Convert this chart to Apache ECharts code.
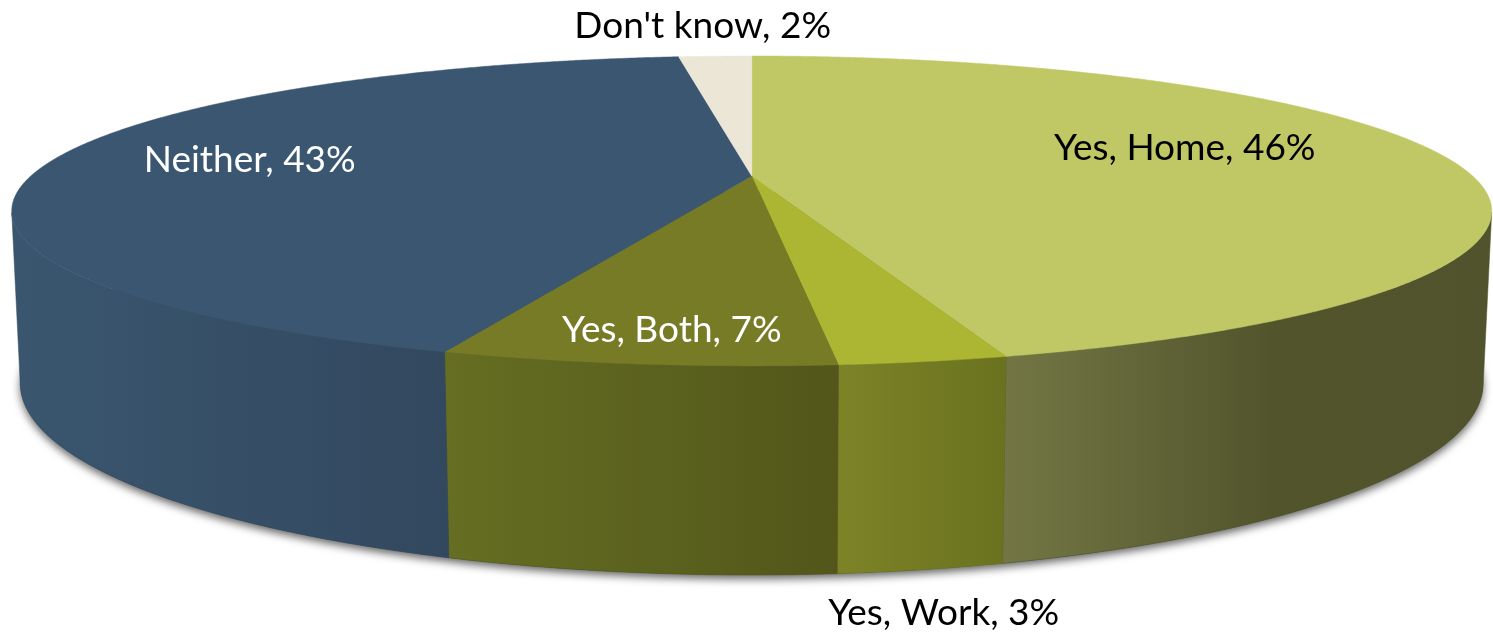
<!DOCTYPE html>
<html>
<head>
<meta charset="utf-8">
<title>Yes, Home / Work / Both</title>
<script src="https://cdn.jsdelivr.net/npm/echarts@6.0.0/dist/echarts.min.js"></script>
<style>
  html, body { margin: 0; padding: 0; background: #ffffff; }
  #chart { width: 1493px; height: 633px; }
</style>
</head>
<body>
<div id="chart"></div>
<script>
// Survey answers, clockwise from twelve o'clock
const categories = ['Yes, Home', 'Yes, Work', 'Yes, Both', 'Neither', "Don't know"];
const shares = [46, 3, 7, 43, 2];

// Slice styling
const topColors = ['#bfc864', '#adb633', '#777b26', '#3a5670', '#ece6d6'];
// rim gradient stops, left to right
const wallStops = [
  [[0, '#737644'], [0.55, '#52552c'], [1, '#50532b']],
  [[0, '#7c8327'], [1, '#6a721f']],
  [[0, '#656e22'], [1, '#52561a']],
  [[0, '#3a566f'], [1, '#32485f']],
  [[0, '#cfc8b8'], [1, '#bdb6a6']]
];
const labelColors = ['#000000', '#000000', '#ffffff', '#ffffff', '#000000'];
// label centre x and text baseline, relative to the pie apex
const labelOffsets = [[433, -16], [192, 449], [-80, 166], [-502, -4], [-49, -138]];
const labelFont = '"Gill Sans", "Gill Sans MT", Lato, sans-serif';
const labelSize = 37;

const total = shares.reduce((a, b) => a + b, 0);
const seriesData = [];
let acc = 0;
shares.forEach((v, i) => {
  seriesData.push({ name: categories[i], value: [1, acc, acc + v, v] });
  acc += v;
});

// Camera looking down on the disc (unit radius) at a shallow angle
const elev = 11.77 * Math.PI / 180;
const cosE = Math.cos(elev), sinE = Math.sin(elev);
const dist = 4.337;          // camera distance in disc radii
const scalePx = 720.9;       // on-screen size of one radius at the centre depth
const focal = scalePx * dist;
const thick = 0.2357;        // disc thickness in radii
const visibleY = 1 / (dist * cosE); // rim faces the camera where Y exceeds this

function project(cx, cy, X, Y, z) {
  const depth = dist - Y * cosE - z * sinE;
  return [cx + focal * X / depth, cy + focal * (Y * sinE - z * cosE) / depth];
}

function renderSlice(params, api) {
  const i = params.dataIndex;
  const start = api.value(1), end = api.value(2);
  const c0 = api.coord([0, 0]);
  const dirAt = (v) => {
    const p = api.coord([1, v]);
    const dx = p[0] - c0[0], dy = p[1] - c0[1];
    const L = Math.hypot(dx, dy) || 1;
    return [dx / L, dy / L];   // X to the right, Y towards the viewer
  };
  const steps = Math.max(4, Math.ceil((end - start) / total * 1440));
  const dirs = [];
  for (let k = 0; k <= steps; k++) dirs.push(dirAt(start + (end - start) * k / steps));

  const children = [];

  // soft shadow under the whole disc, drawn once
  if (i === 0) {
    const ring = [];
    for (let k = 0; k < 720; k++) {
      const d = dirAt(total * k / 720);
      ring.push(project(c0[0], c0[1], d[0], d[1], -thick));
    }
    children.push({
      type: 'polygon', z2: 0,
      shape: { points: ring },
      style: { fill: '#555555', shadowBlur: 9, shadowOffsetY: 4, shadowColor: 'rgba(0,0,0,0.6)' }
    });
  }

  // front rim of this slice
  const run = [];
  for (let k = 0; k < dirs.length; k++) {
    const d = dirs[k];
    const vis = d[1] > visibleY;
    if (k > 0) {
      const p = dirs[k - 1];
      const pv = p[1] > visibleY;
      if (pv !== vis) {
        const t = (visibleY - p[1]) / (d[1] - p[1]);
        const x = p[0] + (d[0] - p[0]) * t, y = p[1] + (d[1] - p[1]) * t;
        const L = Math.hypot(x, y);
        run.push([x / L, y / L]);
      }
    }
    if (vis) run.push(d);
  }
  if (run.length > 1) {
    const upper = run.map(d => project(c0[0], c0[1], d[0], d[1], 0));
    const lower = run.map(d => project(c0[0], c0[1], d[0], d[1], -thick)).reverse();
    const stops = wallStops[i];
    children.push({
      type: 'polygon', z2: 1,
      shape: { points: upper.concat(lower) },
      style: {
        fill: new echarts.graphic.LinearGradient(0, 0, 1, 0,
          stops.map(s => ({ offset: s[0], color: s[1] }))),
        stroke: stops[stops.length - 1][1], lineWidth: 0.5
      }
    });
  }

  // top face
  const topPts = [[c0[0], c0[1]]].concat(dirs.map(d => project(c0[0], c0[1], d[0], d[1], 0)));
  children.push({
    type: 'polygon', z2: 2,
    shape: { points: topPts },
    style: { fill: topColors[i], stroke: topColors[i], lineWidth: 0.5 }
  });

  // label
  const off = labelOffsets[i];
  children.push({
    type: 'text', z2: 3,
    x: c0[0] + off[0], y: c0[1] + off[1] - 12,
    style: {
      text: categories[i] + ', ' + api.value(3) + '%',
      fill: labelColors[i],
      font: labelSize + 'px ' + labelFont,
      align: 'center', verticalAlign: 'middle'
    }
  });

  return { type: 'group', children };
}

const chart = echarts.init(document.getElementById('chart'), null, { renderer: 'canvas' });
chart.setOption({
  animation: false,
  backgroundColor: '#ffffff',
  polar: { center: ['50.35%', '27.8%'], radius: 100 },
  angleAxis: { type: 'value', min: 0, max: total, startAngle: 90, clockwise: true, show: false },
  radiusAxis: { type: 'value', min: 0, max: 1, show: false },
  series: [{
    type: 'custom',
    coordinateSystem: 'polar',
    renderItem: renderSlice,
    data: seriesData,
    silent: true
  }]
});
</script>
</body>
</html>
